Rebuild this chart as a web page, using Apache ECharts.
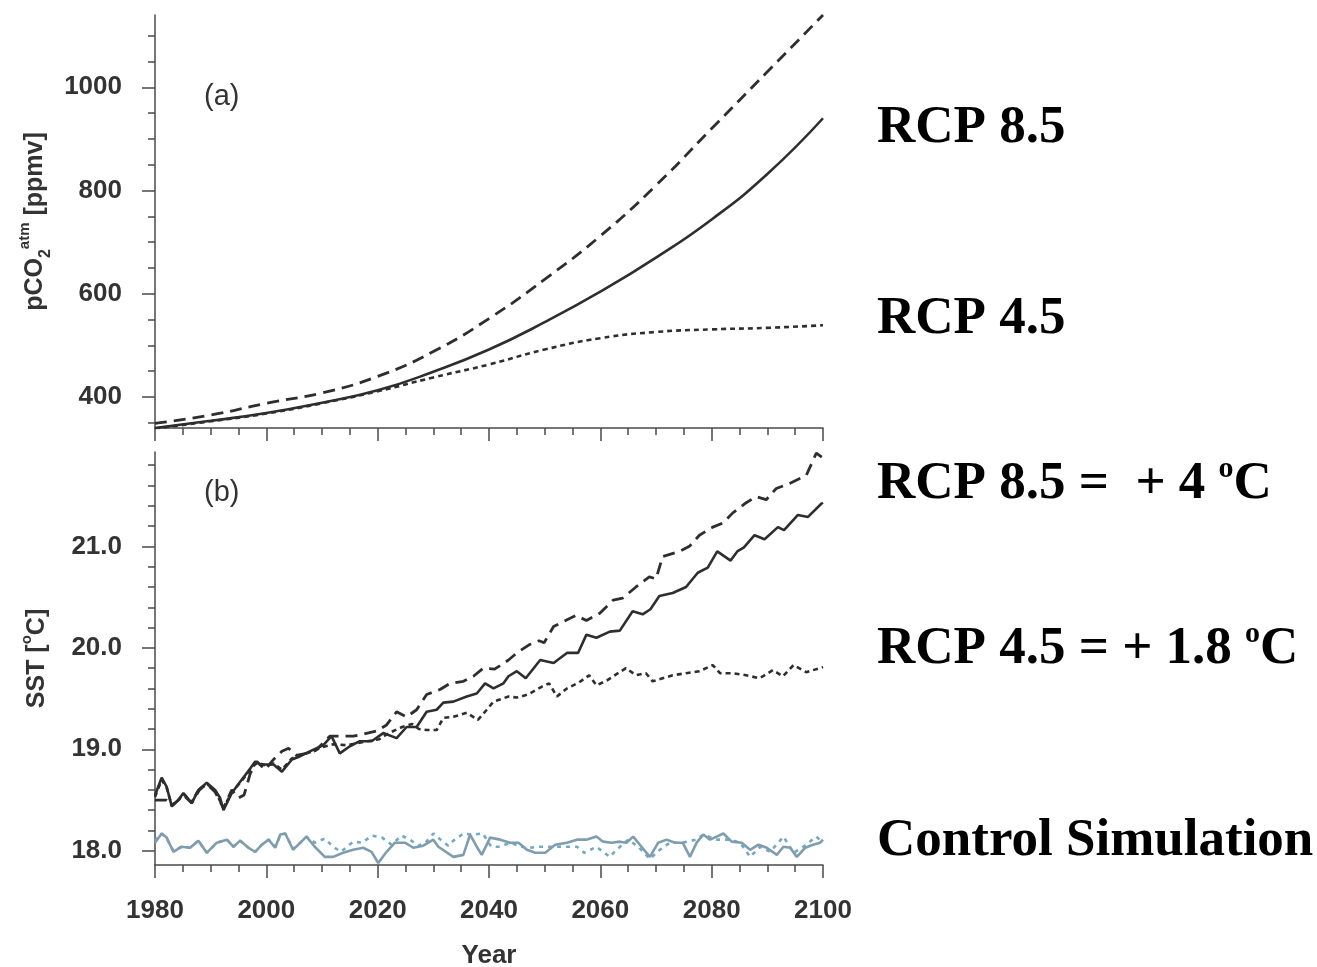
<!DOCTYPE html>
<html>
<head>
<meta charset="utf-8">
<script src="https://cdn.jsdelivr.net/npm/echarts@6/dist/echarts.min.js"></script>
<style>
  html, body { margin: 0; padding: 0; background: #ffffff; }
  #chart { width: 1317px; height: 967px; }
</style>
</head>
<body>
<div id="chart"></div>
<script>
// ---- (a) atmospheric pCO2 [ppmv], smooth scenario curves ----
const co2Years   = [1980, 1990, 2000, 2010, 2020, 2030, 2040, 2050, 2060, 2070, 2080, 2090, 2100];
const co2Solid   = [340, 354, 369, 389, 413, 449, 492, 545, 604, 670, 744, 832, 940];
const co2Dashed  = [349, 365, 388, 408, 440, 488, 552, 628, 712, 810, 920, 1030, 1140];
const co2Dotted  = [339, 353, 368, 388, 411, 438, 463, 492, 514, 526, 531, 534, 539];

// ---- (b) SST [deg C], [year, value] ----
const sstSolid = [[1980,18.55],[1981.2,18.72],[1982.1,18.63],[1983,18.44],[1984.2,18.50],[1985.1,18.57],[1986.6,18.47],[1987.8,18.60],[1989.3,18.67],[1990.8,18.60],[1991.7,18.52],[1992.3,18.40],[1993.8,18.57],[1995.3,18.68],[1997.1,18.81],[1998,18.88],[1998.9,18.85],[2001.3,18.85],[2002.8,18.78],[2004.6,18.90],[2006,18.93],[2007.8,18.98],[2010.2,19.04],[2011.7,19.13],[2013.2,18.96],[2015,19.03],[2016.8,19.08],[2018.9,19.08],[2021,19.16],[2023.4,19.11],[2025.2,19.22],[2027,19.22],[2028.8,19.37],[2030.6,19.39],[2031.8,19.46],[2033.6,19.47],[2036,19.52],[2037.8,19.55],[2039.3,19.65],[2040.8,19.60],[2042.6,19.65],[2043.5,19.72],[2045,19.77],[2046.6,19.70],[2049.2,19.88],[2051.6,19.85],[2054,19.95],[2056,19.95],[2057.5,20.13],[2059.3,20.10],[2061.7,20.16],[2063.5,20.17],[2065.8,20.36],[2067.6,20.33],[2069,20.38],[2070.6,20.51],[2073,20.54],[2075.4,20.60],[2077.5,20.74],[2079.3,20.79],[2081,20.95],[2083.4,20.86],[2084.6,20.95],[2085.8,20.99],[2087.7,21.11],[2089.5,21.07],[2091.9,21.19],[2093,21.16],[2095.5,21.31],[2097.3,21.29],[2099.7,21.42],[2100,21.43]];
const sstDashed = [[1980,18.50],[1982,18.50],[1983,18.44],[1984.2,18.50],[1985.1,18.55],[1986.6,18.47],[1988,18.60],[1989.3,18.66],[1990.8,18.58],[1992.3,18.42],[1993.8,18.60],[1995,18.52],[1996,18.55],[1997.1,18.76],[1998.3,18.88],[1999.8,18.80],[2001.3,18.90],[2002.8,18.98],[2004,19.01],[2005.4,18.94],[2007.2,18.96],[2008.9,18.99],[2011.4,19.13],[2013.5,19.13],[2015.6,19.13],[2017.5,19.15],[2019.8,19.18],[2021.6,19.24],[2023.4,19.37],[2025.2,19.32],[2027,19.39],[2028.8,19.54],[2031.2,19.59],[2033,19.65],[2035.4,19.67],[2037.2,19.72],[2039,19.80],[2041,19.79],[2043.5,19.88],[2045,19.95],[2047.2,20.03],[2049,20.07],[2049.9,20.05],[2051.6,20.21],[2053.4,20.26],[2055.6,20.32],[2057.5,20.27],[2059.9,20.34],[2062.3,20.47],[2064,20.49],[2066.4,20.60],[2068.8,20.70],[2070,20.68],[2071.2,20.90],[2074.2,20.95],[2076,21.00],[2077.8,21.11],[2080.2,21.19],[2082,21.23],[2083.8,21.33],[2086.2,21.43],[2088,21.49],[2089.8,21.46],[2091.6,21.57],[2094,21.62],[2097,21.70],[2098.8,21.92],[2100,21.87]];
const sstDotted = [[1980,18.53],[1981.2,18.70],[1982.1,18.62],[1983,18.45],[1984.2,18.50],[1985.1,18.56],[1986.6,18.48],[1987.8,18.60],[1989.3,18.66],[1990.8,18.59],[1992.3,18.42],[1993.8,18.58],[1995.3,18.67],[1997.1,18.80],[1998.3,18.87],[2000,18.84],[2001.3,18.86],[2002.8,18.80],[2004.6,18.91],[2006,18.94],[2007.8,18.97],[2010,19.02],[2012,19.05],[2014.5,19.04],[2017.2,19.07],[2020.3,19.10],[2022,19.16],[2024.4,19.22],[2026.2,19.25],[2027.4,19.20],[2028.8,19.19],[2030.6,19.19],[2031.8,19.31],[2033.6,19.32],[2036,19.36],[2038,19.29],[2039.6,19.39],[2040.8,19.47],[2043.5,19.52],[2045,19.51],[2047,19.54],[2049.6,19.62],[2050.8,19.65],[2052.2,19.52],[2054,19.60],[2056.2,19.66],[2058,19.73],[2059.3,19.63],[2061.2,19.68],[2064.6,19.80],[2066.4,19.73],[2068.2,19.75],[2069.4,19.67],[2071.2,19.70],[2073,19.73],[2075.4,19.75],[2077.8,19.77],[2080.2,19.83],[2081.5,19.75],[2083.8,19.75],[2086.2,19.73],[2088.6,19.70],[2091,19.78],[2092.8,19.72],[2094.7,19.83],[2097,19.76],[2100,19.81]];
const ctrlSolid = [[1980,18.08],[1981.2,18.17],[1982.1,18.13],[1983.3,17.99],[1984.8,18.04],[1986.3,18.03],[1987.8,18.10],[1989.3,17.98],[1991.1,18.08],[1992.9,18.11],[1994.1,18.04],[1995.3,18.10],[1996.8,18.03],[1998,17.99],[1999.2,18.06],[2000.4,18.11],[2001.6,18.03],[2002.5,18.16],[2003.4,18.17],[2004.8,18.01],[2006.3,18.09],[2007.2,18.14],[2008.7,18.04],[2010.5,17.94],[2012,17.94],[2013.8,17.98],[2015.6,18.01],[2017.4,18.03],[2018.9,17.99],[2020.1,17.88],[2021.6,17.99],[2023.1,18.08],[2024.9,18.08],[2026.4,18.03],[2028.2,18.05],[2030,18.11],[2030.9,18.04],[2033.6,17.94],[2035.4,17.96],[2036.6,18.16],[2037.8,18.04],[2038.7,17.96],[2040.2,18.13],[2042,18.11],[2043.8,18.08],[2045.3,18.08],[2046.8,18.01],[2048.3,17.98],[2050.1,17.98],[2051.9,18.06],[2054,18.08],[2055.8,18.11],[2057.5,18.11],[2059.3,18.14],[2060.5,18.09],[2062,18.08],[2063.5,18.09],[2064.7,18.08],[2065.9,18.14],[2067.4,18.04],[2068.9,17.94],[2070.4,18.08],[2071.9,18.11],[2073.4,18.08],[2074.8,18.08],[2076.1,17.94],[2077.3,18.08],[2078.5,18.16],[2079.7,18.11],[2080.9,18.14],[2082.1,18.17],[2083.6,18.09],[2085.4,18.08],[2086.9,18.01],[2088.4,18.06],[2089.9,18.03],[2091.7,17.96],[2092.9,18.04],[2094.1,18.03],[2095.3,17.94],[2096.8,18.03],[2098.2,18.06],[2099.5,18.08],[2100,18.11]];
const ctrlDotted = [[1980,18.10],[1981.2,18.17],[1982.1,18.12],[1983.3,18.00],[1984.8,18.04],[1986.3,18.03],[1987.8,18.10],[1989.3,17.98],[1991.1,18.08],[1992.9,18.11],[1994.1,18.04],[1995.3,18.10],[1996.8,18.03],[1998,17.99],[1999.2,18.06],[2000.4,18.11],[2001.6,18.04],[2002.5,18.15],[2003.4,18.17],[2004.8,18.02],[2006.3,18.09],[2007.2,18.14],[2008.7,18.08],[2010.5,18.12],[2012,18.04],[2013.4,17.99],[2015.6,18.09],[2017.2,18.08],[2019,18.15],[2020.8,18.13],[2022.5,18.06],[2024.3,18.15],[2025.8,18.11],[2027.3,18.05],[2028.6,18.08],[2030,18.17],[2031.5,18.10],[2032.7,18.05],[2033.6,18.10],[2035.4,18.17],[2037,18.16],[2038.9,18.17],[2040.4,18.04],[2042,18.04],[2043.8,18.08],[2045.8,18.04],[2047.3,18.03],[2049.1,18.04],[2051.7,18.04],[2054,18.04],[2055.8,18.04],[2057.1,17.98],[2059.3,18.04],[2061.7,17.94],[2062.9,18.01],[2065,18.11],[2066.8,18.04],[2068.9,17.92],[2070.7,18.01],[2072.5,18.08],[2074.8,18.08],[2077.2,18.11],[2078.5,18.16],[2080.9,18.11],[2083.3,18.11],[2085.1,18.08],[2086.9,17.94],[2088.7,18.04],[2090.5,17.99],[2092.9,18.14],[2094.7,17.98],[2096.5,18.04],[2098.8,18.14],[2100,18.08]];

// ---- tick positions ----
const co2MajorTicks = [400, 600, 800, 1000];
const co2MinorTicks = [350, 450, 500, 550, 650, 700, 750, 850, 900, 950, 1050, 1100];
const sstMajorTicks = [18, 19, 20, 21];
const sstMinorTicks = [18.2, 18.4, 18.6, 18.8, 19.2, 19.4, 19.6, 19.8, 20.2, 20.4, 20.6, 20.8, 21.2, 21.4, 21.6, 21.8];

// ---- right-hand annotations ----
const sideNotes = [
  { text: 'RCP 8.5', y: 128 },
  { text: 'RCP 4.5', y: 319 },
  { text: 'RCP 8.5 =  + 4 {sup|o}C', y: 484 },
  { text: 'RCP 4.5 = + 1.8 {sup|o}C', y: 649 },
  { text: 'Control Simulation', y: 841 }
];

const INK = '#333333';
const AXIS = '#4a4a4a';
const labelFont = { color: INK, fontFamily: 'Liberation Sans', fontWeight: 'bold', fontSize: 26 };

function xAxisFor(gridIndex, showLabels) {
  return {
    type: 'value', gridIndex, min: 1980, max: 2100, interval: 20,
    axisLine: { show: true, onZero: false, lineStyle: { color: AXIS, width: 1.5 } },
    axisTick: { show: true, inside: false, length: 13, lineStyle: { color: AXIS, width: 1.5 } },
    minorTick: { show: true, splitNumber: 4, length: 7, lineStyle: { color: AXIS, width: 1.5 } },
    splitLine: { show: false },
    axisLabel: Object.assign({ show: showLabels, margin: 33, formatter: v => String(v) }, labelFont),
    name: showLabels ? 'Year' : '',
    nameLocation: 'middle', nameGap: 78,
    nameTextStyle: labelFont
  };
}

function yAxisPair(gridIndex, min, max, major, minor, fmt, name, rich) {
  return [
    {
      type: 'value', gridIndex, min, max, position: 'left',
      axisLine: { show: true, onZero: false, lineStyle: { color: AXIS, width: 1.5 } },
      axisTick: { show: true, length: 13, customValues: major, lineStyle: { color: AXIS, width: 1.5 } },
      splitLine: { show: false },
      axisLabel: Object.assign({ margin: 33, customValues: major, formatter: fmt }, labelFont),
      name, nameLocation: 'middle', nameRotate: 90, nameGap: 100,
      nameTextStyle: Object.assign({ rich }, labelFont, { fontSize: 25 })
    },
    {
      type: 'value', gridIndex, min, max, position: 'left',
      axisLine: { show: false },
      axisTick: { show: true, length: 7, customValues: minor, lineStyle: { color: AXIS, width: 1.5 } },
      splitLine: { show: false },
      axisLabel: { show: false }
    }
  ];
}

const richBase = { fontFamily: 'Liberation Sans', fontWeight: 'bold', color: INK };
const co2Rich = {
  n: Object.assign({ fontSize: 25, lineHeight: 36, verticalAlign: 'middle' }, richBase),
  sub: Object.assign({ fontSize: 16, lineHeight: 36, verticalAlign: 'bottom' }, richBase),
  sup: Object.assign({ fontSize: 15, lineHeight: 36, verticalAlign: 'top' }, richBase)
};
const sstRich = {
  n: Object.assign({ fontSize: 25, lineHeight: 36, verticalAlign: 'middle' }, richBase),
  sup: Object.assign({ fontSize: 15, lineHeight: 36, verticalAlign: 'top' }, richBase)
};

const lineBase = { type: 'line', showSymbol: false, symbol: 'none', animation: false };
const blackStyle = (type) => ({ color: '#2e2e2e', width: 2.6, type, cap: 'butt' });

const option = {
  backgroundColor: '#ffffff',
  animation: false,
  grid: [
    { left: 155, top: 15, width: 668, height: 413, outerBoundsMode: 'none', containLabel: false },
    { left: 155, top: 452, width: 668, height: 413, outerBoundsMode: 'none', containLabel: false }
  ],
  xAxis: [xAxisFor(0, false), xAxisFor(1, true)],
  yAxis: [
    ...yAxisPair(0, 340, 1140, co2MajorTicks, co2MinorTicks, v => String(v),
      '{n|pCO}{sub|2}{sup|atm}{n| [ppmv]}', co2Rich),
    ...yAxisPair(1, 17.86, 21.93, sstMajorTicks, sstMinorTicks, v => v.toFixed(1),
      '{n|SST [}{sup|o}{n|C]}', sstRich)
  ],
  series: [
    Object.assign({}, lineBase, { xAxisIndex: 0, yAxisIndex: 0, smooth: true,
      data: co2Years.map((y, i) => [y, co2Dashed[i]]), lineStyle: Object.assign(blackStyle([12, 7]), { width: 2.8 }) }),
    Object.assign({}, lineBase, { xAxisIndex: 0, yAxisIndex: 0, smooth: true,
      data: co2Years.map((y, i) => [y, co2Solid[i]]), lineStyle: blackStyle('solid') }),
    Object.assign({}, lineBase, { xAxisIndex: 0, yAxisIndex: 0, smooth: true,
      data: co2Years.map((y, i) => [y, co2Dotted[i]]), lineStyle: blackStyle([5, 4]) }),

    Object.assign({}, lineBase, { xAxisIndex: 1, yAxisIndex: 2,
      data: ctrlDotted, lineStyle: { color: '#74a9c6', width: 2.6, type: [4, 5] } }),
    Object.assign({}, lineBase, { xAxisIndex: 1, yAxisIndex: 2,
      data: ctrlSolid, lineStyle: { color: '#7f9dad', width: 2.6 } }),
    Object.assign({}, lineBase, { xAxisIndex: 1, yAxisIndex: 2,
      data: sstDashed, lineStyle: Object.assign(blackStyle([12, 7]), { width: 2.8 }) }),
    Object.assign({}, lineBase, { xAxisIndex: 1, yAxisIndex: 2,
      data: sstDotted, lineStyle: blackStyle([5, 4]) }),
    Object.assign({}, lineBase, { xAxisIndex: 1, yAxisIndex: 2,
      data: sstSolid, lineStyle: blackStyle('solid') })
  ],
  graphic: [
    { type: 'text', x: 204, y: 97, style: { text: '(a)', fill: INK, font: '29px "Liberation Sans"', verticalAlign: 'middle' } },
    { type: 'text', x: 204, y: 493, style: { text: '(b)', fill: INK, font: '29px "Liberation Sans"', verticalAlign: 'middle' } },
    ...sideNotes.map(n => ({
      type: 'text', x: 877, y: n.y,
      style: {
        text: n.text, fill: '#000000',
        font: 'bold 53px "Liberation Serif"',
        verticalAlign: 'middle',
        rich: { sup: { font: 'bold 30px "Liberation Serif"', fill: '#000000', verticalAlign: 'top', lineHeight: 60 } }
      }
    }))
  ]
};

const chart = echarts.init(document.getElementById('chart'), null, { renderer: 'canvas' });
chart.setOption(option);
</script>
</body>
</html>
